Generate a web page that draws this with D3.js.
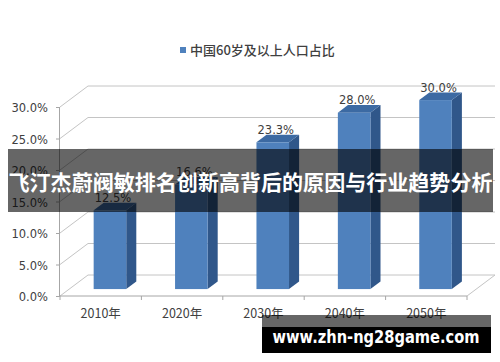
<!DOCTYPE html>
<html><head><meta charset="utf-8">
<script src="https://cdn.jsdelivr.net/npm/d3@7"></script>
<style>html,body{margin:0;padding:0;background:#fff;}svg{display:block;}</style>
</head><body>
<script>
const categories = ["2010年","2020年","2030年","2040年","2050年"];
const values = [12.5, 16.6, 23.3, 28.0, 30.0];
const valueLabels = ["12.5%","16.6%","23.3%","28.0%","30.0%"];
const yTicks = [0,5,10,15,20,25,30];
const seriesName = "中国60岁及以上人口占比";
const overlayTitle = "飞汀杰蔚阀敏排名创新高背后的原因与行业趋势分析";
const watermark = "www.zhn-ng28game.com";

const W = 500, H = 362;
const svg = d3.select("body").append("svg").attr("width", W).attr("height", H)
  .style("font-family", "'Noto Sans CJK SC','Noto Sans',sans-serif");

const x = d3.scaleBand().domain(categories).range([60, 467]).paddingInner(0.6).paddingOuter(0.3);
const y = d3.scaleLinear().domain([0, 30]).range([296, 107]);
const D = {dx: 28, dy: -21};       // depth of the 3D box
const f0 = 0.33, f1 = 0.69;        // bar depth position (fraction)

const grid = "#c4c4c4", axisC = "#a6a6a6";

// back wall gridlines + left wall diagonals
yTicks.forEach(t => {
  const yy = y(t);
  svg.append("line").attr("x1", 60 + D.dx).attr("y1", yy + D.dy).attr("x2", 467 + D.dx).attr("y2", yy + D.dy)
    .attr("stroke", grid).attr("stroke-width", 1);
  svg.append("line").attr("x1", 60).attr("y1", yy).attr("x2", 60 + D.dx).attr("y2", yy + D.dy)
    .attr("stroke", grid).attr("stroke-width", 1);
});
// floor right edge
svg.append("line").attr("x1", 467).attr("y1", y(0)).attr("x2", 467 + D.dx).attr("y2", y(0) + D.dy)
  .attr("stroke", grid);

// y axis
const yAxis = d3.axisLeft(y).tickValues(yTicks).tickSize(4).tickPadding(8)
  .tickFormat(d => d3.format(".1f")(d) + "%");
const gy = svg.append("g").attr("transform", "translate(60,0)").call(yAxis);
gy.select(".domain").attr("stroke", axisC).attr("d", `M-0.5,${y(30)}V${y(0)}`);
gy.selectAll(".tick line").attr("stroke", axisC);
gy.selectAll(".tick text").attr("fill", "#404040").style("font-size", "11.5px")
  .style("font-family", "'DejaVu Sans',sans-serif").attr("dy", "0.4em");

// x axis (front floor edge)
svg.append("line").attr("x1", 60).attr("y1", y(0)).attr("x2", 467).attr("y2", y(0)).attr("stroke", axisC);
const edges = categories.map(c => x(c) - x.step() * x.paddingInner() / 2).concat([467]);
edges.forEach(e => svg.append("line").attr("x1", e).attr("x2", e).attr("y1", y(0)).attr("y2", y(0) + 4).attr("stroke", axisC));
categories.forEach(c => {
  svg.append("text").attr("x", x(c) + x.bandwidth() / 2).attr("y", 318)
    .attr("text-anchor", "middle").attr("fill", "#404040").style("font-size", "12.5px").text(c);
});

// bars
const bw = x.bandwidth();
const ox0 = D.dx * f0, oy0 = D.dy * f0, ox1 = D.dx * f1, oy1 = D.dy * f1;
const sdx = ox1 - ox0, sdy = oy1 - oy0;
categories.forEach((c, i) => {
  const xl = x(c) + ox0, xr = xl + bw;
  const yb = y(0) + oy0, yt = y(values[i]) + oy0;
  // side
  svg.append("path").attr("d", `M${xr},${yb}L${xr + sdx},${yb + sdy}L${xr + sdx},${yt + sdy}L${xr},${yt}Z`).attr("fill", "#30578a");
  // top
  svg.append("path").attr("d", `M${xl},${yt}L${xr},${yt}L${xr + sdx},${yt + sdy}L${xl + sdx},${yt + sdy}Z`).attr("fill", "#3c6aa3");
  // front
  svg.append("rect").attr("x", xl).attr("y", yt).attr("width", bw).attr("height", yb - yt).attr("fill", "#4f81bd");
  // label
  svg.append("text").attr("x", xl + (bw + sdx) / 2 - 2).attr("y", yt + sdy - 1)
    .attr("text-anchor", "middle").attr("fill", "#404040").style("font-size", "11.5px")
    .style("font-family", "'DejaVu Sans',sans-serif").text(valueLabels[i]);
});

// legend
svg.append("rect").attr("x", 180).attr("y", 47).attr("width", 6).attr("height", 6).attr("fill", "#4f81bd");
svg.append("text").attr("x", 190).attr("y", 55).attr("fill", "#404040").style("font-size", "13px")
  .style("font-weight", "500").text(seriesName);

// overlay band with title
svg.append("rect").attr("x", 8).attr("y", 149).attr("width", 485).attr("height", 63).attr("fill", "rgba(0,0,0,0.6)");
svg.append("text").attr("x", 250.5).attr("y", 189.5).attr("text-anchor", "middle").attr("fill", "#fff")
  .style("font-size", "21px").style("font-weight", "bold").attr("textLength", 484).attr("lengthAdjust", "spacingAndGlyphs")
  .text(overlayTitle);

// watermark
svg.append("rect").attr("x", 262).attr("y", 315).attr("width", 229).attr("height", 12).attr("fill", "rgba(0,0,0,0.6)");
svg.append("rect").attr("x", 262).attr("y", 327).attr("width", 229).attr("height", 26).attr("fill", "#000");
svg.append("text").attr("x", 376).attr("y", 343).attr("text-anchor", "middle").attr("fill", "#fff")
  .style("font-size", "17px").style("font-weight", "bold").style("font-family", "'DejaVu Sans',sans-serif")
  .attr("textLength", 207).attr("lengthAdjust", "spacingAndGlyphs").text(watermark);
</script>
</body></html>
